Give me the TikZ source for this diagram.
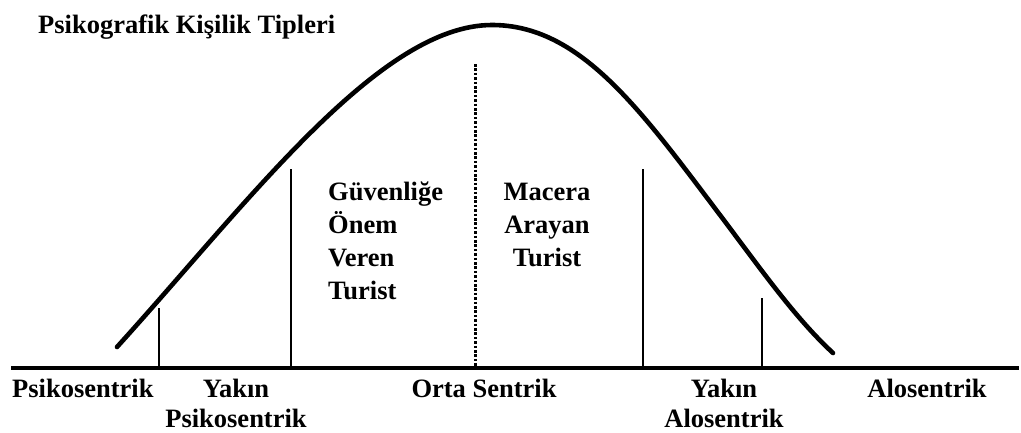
\documentclass[tikz,border=0pt]{standalone}
\usepackage{fontspec}
\setmainfont{Liberation Serif}
\begin{document}
\begin{tikzpicture}[x=1pt,y=-1pt,
  lbl/.style={font=\bfseries\fontsize{26.5}{30}\selectfont, inner sep=0pt, align=center},
  mid/.style={font=\bfseries\fontsize{26.5}{33}\selectfont, inner sep=0pt},
  bar/.style={line width=2.6pt},
  curve/.style={line width=4.6pt, line cap=round}]
\useasboundingbox (0,0) rectangle (1021,432);
% baseline
\coordinate (bl) at (11,368);
\coordinate (br) at (1019,368);
\draw[line width=3.4pt] (bl) -- (br);
% bell curve
\coordinate (cL) at (117,347);
\coordinate (cP) at (492,25);
\coordinate (cI) at (720,215);
\coordinate (cR) at (833,353);
\draw[curve] (cL) .. controls (250,200) and (380,25) .. (cP)
  .. controls (580,25) and (640,109) .. (cI)
  .. controls (760,268) and (795,318) .. (cR);
% vertical lines
\coordinate (t1) at (159,308); \coordinate (b1) at (159,368);
\coordinate (t2) at (291,169); \coordinate (b2) at (291,368);
\coordinate (t3) at (475,64);  \coordinate (b3) at (475,368);
\coordinate (t4) at (643,169); \coordinate (b4) at (643,368);
\coordinate (t5) at (762,298); \coordinate (b5) at (762,368);
\draw[bar] (t1) -- (b1);
\draw[bar] (t2) -- (b2);
\draw[line width=3pt, dash pattern=on 2.6pt off 1.8pt] (t3) -- (b3);
\draw[bar] (t4) -- (b4);
\draw[bar] (t5) -- (b5);
% title
\node[lbl, anchor=base west] (title) at (38,33) {Psikografik Kişilik Tipleri};
% middle texts
\node[mid, align=left, anchor=north west] (guv) at (328,182) {Güvenliğe\\ Önem\\ Veren\\ Turist};
\node[mid, align=center, anchor=north] (mac) at (547,182.5) {Macera\\Arayan\\Turist};
% bottom labels
\node[lbl, anchor=base west] (psi) at (12,397) {Psikosentrik};
\node[lbl, anchor=north] (ypsi) at (236,379) {Yakın\\Psikosentrik};
\node[lbl, anchor=base] (orta) at (484,397) {Orta Sentrik};
\node[lbl, anchor=north] (yalo) at (724,379) {Yakın\\Alosentrik};
\node[lbl, anchor=base] (alo) at (927,397) {Alosentrik};
\end{tikzpicture}
\end{document}
